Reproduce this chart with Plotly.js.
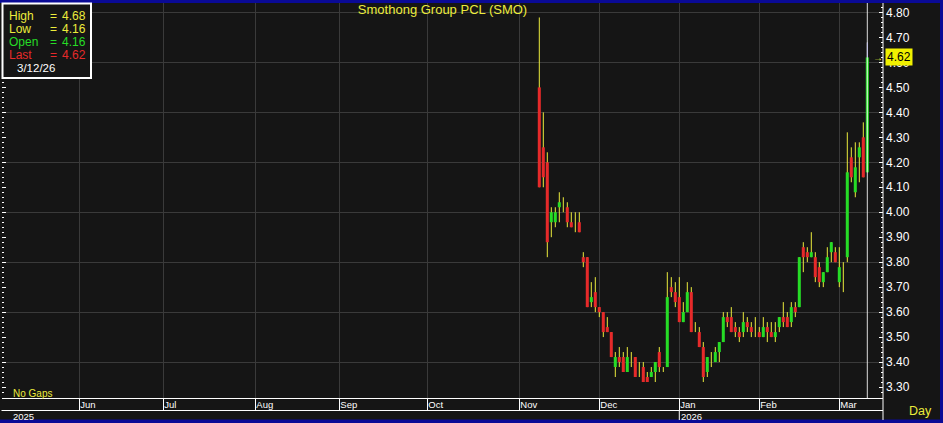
<!DOCTYPE html>
<html><head><meta charset="utf-8">
<script src="https://cdn.plot.ly/plotly-3.0.1.min.js"></script>
<style>html,body{margin:0;padding:0;background:#0a0a96;}#chart{width:943px;height:423px;}</style>
</head><body><div id="chart"></div>
<script>
const chartTitle = 'Smothong Group PCL (SMO)';
const dates = [
 '2025-11-10','2025-11-11','2025-11-12','2025-11-13','2025-11-14','2025-11-17','2025-11-18','2025-11-19','2025-11-20','2025-11-21','2025-11-24','2025-11-25','2025-11-26','2025-11-27','2025-11-28',
 '2025-12-01','2025-12-02','2025-12-03','2025-12-04','2025-12-08','2025-12-09','2025-12-11','2025-12-12','2025-12-15','2025-12-16','2025-12-17','2025-12-18','2025-12-19','2025-12-22','2025-12-23','2025-12-24','2025-12-25','2025-12-26','2025-12-29','2025-12-30',
 '2026-01-05','2026-01-06','2026-01-07','2026-01-08','2026-01-09','2026-01-12','2026-01-13','2026-01-14','2026-01-15','2026-01-16','2026-01-19','2026-01-20','2026-01-21','2026-01-22','2026-01-23','2026-01-26','2026-01-27','2026-01-28','2026-01-29','2026-01-30',
 '2026-02-02','2026-02-03','2026-02-04','2026-02-05','2026-02-06','2026-02-09','2026-02-10','2026-02-11','2026-02-12','2026-02-13','2026-02-16','2026-02-17','2026-02-18','2026-02-19','2026-02-20','2026-02-23','2026-02-24','2026-02-25','2026-02-26','2026-02-27',
 '2026-03-02','2026-03-04','2026-03-05','2026-03-06','2026-03-09','2026-03-10','2026-03-11','2026-03-12'];
const open = [
 4.50,4.26,4.20,3.96,3.96,4.02,4.02,4.02,3.96,3.94,3.96,3.82,3.82,3.64,3.68,
 3.62,3.60,3.54,3.52,3.38,3.42,3.42,3.36,3.40,3.42,3.36,3.38,3.34,3.34,3.36,3.44,3.36,3.38,3.70,3.68,
 3.66,3.56,3.60,3.68,3.52,3.52,3.46,3.36,3.40,3.40,3.44,3.48,3.58,3.58,3.54,3.52,3.52,3.56,3.54,3.52,
 3.52,3.50,3.54,3.52,3.50,3.54,3.58,3.58,3.56,3.62,3.62,3.86,3.84,3.82,3.82,3.78,3.72,3.76,3.84,3.84,
 3.72,3.78,3.82,4.22,4.08,4.22,4.30,4.16];
const high = [
 4.78,4.40,4.24,4.02,4.02,4.08,4.06,4.04,4.00,4.00,4.00,3.84,3.82,3.72,3.74,
 3.62,3.60,3.58,3.52,3.44,3.46,3.44,3.46,3.44,3.42,3.40,3.40,3.36,3.38,3.40,3.46,3.38,3.76,3.74,3.72,
 3.74,3.64,3.72,3.70,3.56,3.54,3.48,3.42,3.44,3.46,3.48,3.60,3.60,3.62,3.56,3.54,3.60,3.58,3.56,3.58,
 3.54,3.58,3.56,3.56,3.56,3.58,3.64,3.60,3.64,3.64,3.82,3.88,3.86,3.92,3.84,3.80,3.76,3.86,3.88,3.86,
 3.86,3.80,4.32,4.26,4.28,4.28,4.36,4.68];
const low = [
 4.10,4.10,3.82,3.90,3.94,3.96,4.00,3.94,3.94,3.92,3.92,3.78,3.62,3.62,3.60,
 3.58,3.50,3.52,3.42,3.34,3.38,3.36,3.36,3.38,3.34,3.34,3.32,3.32,3.34,3.32,3.36,3.36,3.38,3.66,3.62,
 3.56,3.56,3.60,3.52,3.52,3.46,3.32,3.34,3.38,3.40,3.40,3.48,3.54,3.52,3.50,3.48,3.50,3.52,3.50,3.50,
 3.50,3.50,3.48,3.50,3.48,3.52,3.54,3.54,3.54,3.58,3.62,3.76,3.80,3.82,3.72,3.70,3.70,3.76,3.80,3.80,
 3.70,3.68,3.80,4.12,4.06,4.12,4.14,4.16];
const close = [
 4.10,4.14,3.88,4.00,4.00,4.04,4.02,3.96,3.94,3.94,3.92,3.80,3.62,3.66,3.62,
 3.60,3.52,3.52,3.42,3.42,3.40,3.36,3.42,3.40,3.34,3.36,3.32,3.32,3.36,3.40,3.38,3.36,3.66,3.68,3.64,
 3.56,3.60,3.68,3.52,3.52,3.46,3.34,3.42,3.40,3.44,3.48,3.58,3.56,3.52,3.52,3.50,3.56,3.54,3.52,3.52,
 3.50,3.54,3.52,3.50,3.52,3.58,3.56,3.54,3.62,3.60,3.82,3.82,3.82,3.84,3.74,3.72,3.76,3.82,3.88,3.80,
 3.78,3.78,4.16,4.14,4.18,4.26,4.14,4.62];
const monthTickDates = ['2025-06-02','2025-07-01','2025-08-01','2025-09-01','2025-10-01','2025-11-03','2025-12-01','2026-01-05','2026-02-02','2026-03-02'];
const monthTickText = ['Jun','Jul','Aug','Sep','Oct','Nov','Dec','Jan','Feb','Mar'];
const holidays = ['2025-12-05','2025-12-10','2025-12-31','2026-01-01','2026-01-02','2026-03-03'];
const priceTicks = {dtick: 0.1, minor: 0.02, grid: 0.2};

const YEL = '#ecec3c', RED = '#e62a2a', GRN = '#26dc26', BG = '#151515', GRID = '#3a3a3a';
const DAY = 86400000;
const noon = d => d + ' 12:00';
const xs = dates.map(noon);
const n = dates.length, L = n - 1;
const yRange = [3.256, 4.838];

// pixel helpers (plot area 2..883 x 3..398)
const px = p => (p - 2) / 881;
const py = p => (398 - p) / 395;

const wick = {type:'ohlc', x: xs, open, high, low, close, xaxis:'x', yaxis:'y',
  tickwidth: 0.36, hoverinfo:'skip', showlegend:false,
  increasing:{line:{color:YEL, width:1}}, decreasing:{line:{color:YEL, width:1}}};
const lastWick = {type:'ohlc', x: xs.slice(-1), open: open.slice(-1), high: high.slice(-1), low: low.slice(-1), close: close.slice(-1),
  xaxis:'x', yaxis:'y', tickwidth: 0, hoverinfo:'skip', showlegend:false,
  increasing:{line:{color:'#2a2ad0', width:1}}, decreasing:{line:{color:'#2a2ad0', width:1}}};
const bodies = {type:'bar', x: xs, base: open.map((o,i)=>Math.min(o, close[i])),
  y: open.map((o,i)=>Math.abs(close[i]-o)), width: 0.76*DAY, xaxis:'x', yaxis:'y2',
  marker:{color: open.map((o,i)=> close[i] > o ? GRN : RED), line:{width:0}},
  hoverinfo:'skip', showlegend:false};

const font = 'Arial, "Liberation Sans", sans-serif';
const ann = (text, x, y, color, size, extra) => Object.assign({text, x: px(x), y: py(y), xref:'paper', yref:'paper',
  xanchor:'left', yanchor:'middle', showarrow:false, borderpad:0, font:{family:font, size, color}}, extra||{});

const annotations = [];
const legendRows = [['High', high[L], YEL, 15.7], ['Low', low[L], YEL, 28.7], ['Open', open[L], GRN, 42], ['Last', close[L], RED, 54.7]];
legendRows.forEach(r => {
  annotations.push(ann(r[0], 8, r[3], r[2], 12));
  annotations.push(ann('=', 48.5, r[3], r[2], 12));
  annotations.push(ann(r[1].toFixed(2), 61, r[3], r[2], 12));
});
const ld = dates[L].split('-');
annotations.push(ann(`${+ld[1]}/${+ld[2]}/${ld[0].slice(2)}`, 15.5, 68, '#ffffff', 11.5));
annotations.push(ann('No Gaps', 12, 393.7, YEL, 10));
annotations.push(ann('Day', 908, 410.5, YEL, 12.5));
annotations.push(ann(monthTickDates[0].slice(0,4), 12, 416, '#ffffff', 9.5));
let yearIdx = monthTickDates.findIndex((d,i)=> i>0 && d.slice(0,4)!==monthTickDates[i-1].slice(0,4));
annotations.push({text: monthTickDates[yearIdx].slice(0,4), x: noon(monthTickDates[yearIdx]), xref:'x', y: py(416), yref:'paper',
  xanchor:'left', yanchor:'middle', xshift:1, showarrow:false, borderpad:0, font:{family:font, size:9.5, color:'#ffffff'}});
// last price tag
annotations.push({text: close[L].toFixed(2), x:1, xref:'paper', y: close[L], yref:'y', xanchor:'left', yanchor:'middle', xshift:2,
  showarrow:false, bgcolor:'#f0f000', borderpad:1, font:{family:font, size:12, color:'#000000'}});
annotations.push({text:'→', x: px(872), xref:'paper', y: close[L], yref:'y', xanchor:'left', yanchor:'middle',
  showarrow:false, borderpad:0, font:{family:font, size:10, color:YEL}});

const shapes = [
  {type:'rect', xref:'paper', yref:'paper', x0:px(0), x1:px(940), y0:py(419.5), y1:1, fillcolor:BG, line:{width:0}, layer:'below'},
  {type:'line', xref:'paper', yref:'paper', x0:px(1.5), x1:1, y0:py(410.5), y1:py(410.5), line:{color:'#ffffff', width:1}},
  {type:'line', xref:'paper', yref:'paper', x0:1, x1:1, y0:py(420), y1:1, line:{color:'#ffffff', width:1}},
  {type:'line', xref:'x', yref:'paper', x0:noon(monthTickDates[yearIdx]), x1:noon(monthTickDates[yearIdx]), y0:py(410.5), y1:py(420), line:{color:'#ffffff', width:1}},
  {type:'line', xref:'x', yref:'paper', x0:xs[L], x1:xs[L], y0:0, y1:1, line:{color:'#ffffff', width:1}, opacity:0.85, layer:'above'},
  {type:'rect', xref:'paper', yref:'paper', x0:px(2.5), x1:px(91), y0:py(78), y1:py(3.5), fillcolor:BG, line:{color:'#ffffff', width:2}, layer:'above'}
];

const layout = {
  width:943, height:423, margin:{l:2, r:60, t:3, b:25, pad:0},
  paper_bgcolor:'#0a0a96', plot_bgcolor:BG, showlegend:false, hovermode:false, barmode:'overlay',
  font:{family:font, color:'#ffffff'},
  title:{text: chartTitle, x:0.5, xref:'paper', xanchor:'center', y: 1 - 9/423, yref:'container', yanchor:'middle',
    font:{family:font, size:13, color:YEL}},
  xaxis:{type:'date', range:['2025-05-06 04:12','2026-03-18 10:12'], rangeslider:{visible:false},
    rangebreaks:[{bounds:['sat','mon']},{values:holidays}],
    tickmode:'array', tickvals: monthTickDates.map(noon), ticktext: monthTickText,
    ticks:'outside', ticklen:11, tickwidth:1, tickcolor:'#ffffff', ticklabelposition:'outside right',
    ticklabelstandoff:-2,
    tickfont:{family:font, size:9.5, color:'#ffffff'},
    showgrid:true, gridcolor:GRID, gridwidth:1, showline:true, linecolor:'#ffffff', linewidth:1, zeroline:false, fixedrange:true},
  yaxis:{side:'right', range:yRange, tick0:0, dtick:priceTicks.dtick, tickformat:'.2f',
    ticks:'inside', ticklen:4, tickwidth:1, tickcolor:'#ffffff', mirror:'ticks', ticklabelstandoff:2,
    minor:{tick0:0, dtick:priceTicks.minor, ticks:'inside', ticklen:2, tickcolor:'#ffffff', showgrid:false},
    showline:false, showgrid:false, zeroline:false, tickfont:{family:font, size:12, color:'#ffffff'}, fixedrange:true},
  yaxis2:{overlaying:'y', side:'right', range:yRange, tick0:0, dtick:priceTicks.grid, showticklabels:false, ticks:'',
    showgrid:true, gridcolor:GRID, gridwidth:1, showline:false, zeroline:false, fixedrange:true},
  annotations, shapes
};
Plotly.newPlot('chart', [wick, lastWick, bodies], layout, {staticPlot:true, displayModeBar:false});
</script></body></html>
